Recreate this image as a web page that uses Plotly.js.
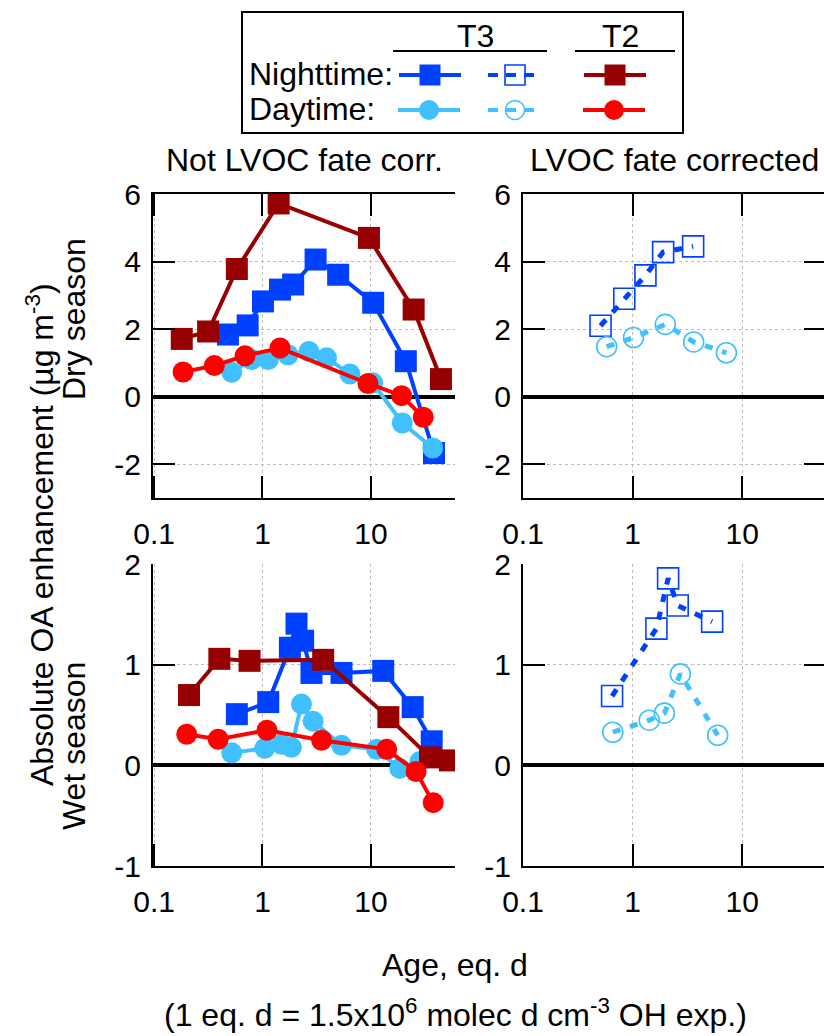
<!DOCTYPE html>
<html>
<head>
<meta charset="utf-8">
<script src="https://cdn.plot.ly/plotly-3.0.1.min.js"></script>
<style>
html,body{margin:0;padding:0;overflow:hidden;background:#fff;}
#chart{width:826px;height:1036px;}
</style>
</head>
<body>
<div id="chart"></div>
<script>
// ---------------- DATA ----------------
// Dry season, not LVOC fate corrected
const dryT3NightX = [0.48, 0.73, 1.01, 1.45, 1.92, 3.09, 4.99, 10.5, 21.0, 38.2];
const dryT3NightY = [1.84, 2.11, 2.82, 3.17, 3.32, 4.06, 3.61, 2.78, 1.05, -1.67];
const dryT3DayX = [0.52, 0.79, 1.13, 1.72, 2.68, 3.90, 6.40, 10.4, 19.5, 37.2];
const dryT3DayY = [0.72, 1.10, 1.10, 1.24, 1.34, 1.15, 0.67, 0.41, -0.78, -1.52];
const dryT2NightX = [0.18, 0.315, 0.58, 1.41, 9.6, 24.8, 44.3];
const dryT2NightY = [1.71, 1.93, 3.78, 5.72, 4.70, 2.58, 0.52];
const dryT2DayX = [0.185, 0.36, 0.69, 1.45, 9.4, 19.2, 30.4];
const dryT2DayY = [0.73, 0.92, 1.21, 1.44, 0.39, 0.03, -0.61];
// Dry season, LVOC fate corrected
const dryT3NightCorrX = [0.51, 0.84, 1.31, 1.90, 3.57];
const dryT3NightCorrY = [2.10, 2.90, 3.59, 4.28, 4.45];
const dryT3DayCorrX = [0.58, 1.02, 1.99, 3.61, 7.18];
const dryT3DayCorrY = [1.48, 1.75, 2.14, 1.62, 1.30];
// Wet season, not LVOC fate corrected
const wetT3NightX = [0.58, 1.13, 1.79, 2.06, 2.37, 2.83, 5.36, 13.0, 24.3, 36.4];
const wetT3NightY = [0.51, 0.63, 1.17, 1.41, 1.24, 0.92, 0.92, 0.94, 0.58, 0.24];
const wetT3DayX = [0.52, 1.05, 1.50, 1.85, 2.29, 2.93, 5.36, 11.3, 18.5, 28.3];
const wetT3DayY = [0.125, 0.17, 0.21, 0.18, 0.61, 0.44, 0.20, 0.16, -0.03, 0.04];
const wetT2NightX = [0.21, 0.40, 0.76, 3.63, 14.5, 35.1, 53.7];
const wetT2NightY = [0.70, 1.06, 1.04, 1.05, 0.48, 0.08, 0.05];
const wetT2DayX = [0.20, 0.39, 1.10, 3.51, 14.0, 26.1, 37.6];
const wetT2DayY = [0.31, 0.26, 0.35, 0.25, 0.16, -0.06, -0.37];
// Wet season, LVOC fate corrected
const wetT3NightCorrX = [0.65, 1.65, 2.11, 2.58, 5.32];
const wetT3NightCorrY = [0.69, 1.36, 1.86, 1.59, 1.43];
const wetT3DayCorrX = [0.66, 1.42, 1.95, 2.73, 5.98];
const wetT3DayCorrY = [0.33, 0.45, 0.52, 0.91, 0.30];

const xTickVals = [0.1, 1, 10];
const xTickText = ['0.1', '1', '10'];
const dryTickVals = [-2, 0, 2, 4, 6];
const wetTickVals = [-1, 0, 1, 2];

// ---------------- STYLE ----------------
const W = 826, H = 1036;
const FONT = 'Liberation Sans, Arial, Helvetica, sans-serif';
const C_BLUE = '#0040ff', C_LBLUE = '#40c0ff', C_DRED = '#960000', C_RED = '#ff0000';
const px = v => v / W;
const py = v => 1 - v / H;

function solid(x, y, color, symbol, size, xa, ya) {
  return {x, y, xaxis: xa, yaxis: ya, type: 'scatter', mode: 'lines+markers',
    line: {color, width: 4}, marker: {color, symbol, size, line: {width: 0}},
    showlegend: false, hoverinfo: 'skip'};
}
function dashed(x, y, color, symbol, size, xa, ya) {
  return {x, y, xaxis: xa, yaxis: ya, type: 'scatter', mode: 'lines+markers',
    line: {color, width: 5, dash: '8px,10px'},
    marker: {color, symbol, size, line: {width: 1.6, color}},
    showlegend: false, hoverinfo: 'skip'};
}

const traces = [
  solid(dryT3NightX, dryT3NightY, C_BLUE, 'square', 22, 'x', 'y'),
  solid(dryT3DayX, dryT3DayY, C_LBLUE, 'circle', 21, 'x', 'y'),
  solid(dryT2NightX, dryT2NightY, C_DRED, 'square', 22, 'x', 'y'),
  solid(dryT2DayX, dryT2DayY, C_RED, 'circle', 21, 'x', 'y'),
  dashed(dryT3NightCorrX, dryT3NightCorrY, C_BLUE, 'square-open', 21, 'x2', 'y2'),
  dashed(dryT3DayCorrX, dryT3DayCorrY, C_LBLUE, 'circle-open', 20, 'x2', 'y2'),
  solid(wetT3NightX, wetT3NightY, C_BLUE, 'square', 22, 'x3', 'y3'),
  solid(wetT3DayX, wetT3DayY, C_LBLUE, 'circle', 21, 'x3', 'y3'),
  solid(wetT2NightX, wetT2NightY, C_DRED, 'square', 22, 'x3', 'y3'),
  solid(wetT2DayX, wetT2DayY, C_RED, 'circle', 21, 'x3', 'y3'),
  dashed(wetT3NightCorrX, wetT3NightCorrY, C_BLUE, 'square-open', 21, 'x4', 'y4'),
  dashed(wetT3DayCorrX, wetT3DayCorrY, C_LBLUE, 'circle-open', 20, 'x4', 'y4')
];

// legend glyphs (drawn on a pixel-space helper axis)
const legendGlyphs = [
  {color: C_BLUE, symbol: 'square', size: 21, dash: 'solid', cx: 430, cy: 75, half: 31, w: 4},
  {color: C_BLUE, symbol: 'square-open', size: 20, dash: '10px,8px', cx: 515, cy: 75, half: 27, w: 4},
  {color: C_DRED, symbol: 'square', size: 21, dash: 'solid', cx: 615, cy: 75, half: 31, w: 4},
  {color: C_LBLUE, symbol: 'circle', size: 20, dash: 'solid', cx: 429, cy: 110, half: 31, w: 4},
  {color: C_LBLUE, symbol: 'circle-open', size: 19, dash: '10px,8px', cx: 515, cy: 110, half: 27, w: 4},
  {color: C_RED, symbol: 'circle', size: 20, dash: 'solid', cx: 614, cy: 110, half: 31, w: 4}
];
legendGlyphs.forEach(g => {
  traces.push({x: [g.cx - g.half, g.cx + g.half], y: [g.cy, g.cy], xaxis: 'x5', yaxis: 'y5',
    mode: 'lines', line: {color: g.color, width: g.w, dash: g.dash}, showlegend: false, hoverinfo: 'skip'});
  traces.push({x: [g.cx], y: [g.cy], xaxis: 'x5', yaxis: 'y5', mode: 'markers',
    marker: {color: g.color, symbol: g.symbol, size: g.size, line: {width: g.symbol.includes('open') ? 1.6 : 0, color: g.color}},
    showlegend: false, hoverinfo: 'skip'});
});

function xax(domain, range, mirror, anchor) {
  return {type: 'log', domain, range, anchor, tickvals: xTickVals, ticktext: xTickText,
    ticks: 'inside', ticklen: 22, tickwidth: 2, tickcolor: '#000',
    showline: true, linewidth: 2, linecolor: '#000', mirror: mirror ? 'ticks' : false,
    showgrid: true, gridcolor: '#bdbdbd', gridwidth: 1, griddash: '3px,3px',
    zeroline: false, tickfont: {size: 30, color: '#000', family: FONT},
    ticklabelstandoff: 8, fixedrange: true};
}
function yax(domain, range, tickvals, mirror, anchor) {
  return {domain, range, anchor, tickvals, ticktext: tickvals.map(String),
    ticks: 'inside', ticklen: 22, tickwidth: 2, tickcolor: '#000',
    showline: true, linewidth: 2, linecolor: '#000', mirror: mirror ? 'ticks' : false,
    showgrid: true, gridcolor: '#bdbdbd', gridwidth: 1, griddash: '3px,3px',
    zeroline: true, zerolinewidth: 4, zerolinecolor: '#000',
    tickfont: {size: 30, color: '#000', family: FONT}, ticklabelstandoff: 4, fixedrange: true};
}

const dL = [px(153), px(455)], dR = [px(523), 1];
const dTop = [py(498), py(194)], dBot = [py(866), py(564)];
const xRangeL = [-1.01, 1.776], xRangeR = [-1.0, 1.765];

const ann = (text, x, y, opts) => Object.assign({text, x: px(x), y: py(y), xref: 'paper', yref: 'paper',
  showarrow: false, font: {size: 32, color: '#000', family: FONT}, xanchor: 'center', yanchor: 'middle'}, opts || {});

const layout = {
  width: W, height: H, margin: {l: 0, r: 0, t: 0, b: 0},
  paper_bgcolor: '#fff', plot_bgcolor: 'rgba(0,0,0,0)',
  font: {family: FONT, size: 32, color: '#000'},
  xaxis: xax(dL, xRangeL, true, 'y'),
  yaxis: yax(dTop, [-3, 6], dryTickVals, false, 'x'),
  xaxis2: xax(dR, xRangeR, true, 'y2'),
  yaxis2: yax(dTop, [-3, 6], dryTickVals, true, 'x2'),
  xaxis3: xax(dL, xRangeL, false, 'y3'),
  yaxis3: yax(dBot, [-1, 2.003], wetTickVals, false, 'x3'),
  xaxis4: xax(dR, xRangeR, false, 'y4'),
  yaxis4: yax(dBot, [-1, 2.003], wetTickVals, true, 'x4'),
  xaxis5: {domain: [0, 1], range: [0, W], visible: false, anchor: 'y5', fixedrange: true},
  yaxis5: {domain: [0, 1], range: [H, 0], visible: false, anchor: 'x5', fixedrange: true},
  shapes: [
    {type: 'rect', xref: 'paper', yref: 'paper', x0: px(242), x1: px(683), y0: py(133), y1: py(12),
     line: {color: '#000', width: 2}},
    {type: 'line', xref: 'paper', yref: 'paper', x0: px(393), x1: px(547), y0: py(51), y1: py(51),
     line: {color: '#000', width: 2}},
    {type: 'line', xref: 'paper', yref: 'paper', x0: px(575), x1: px(675), y0: py(51), y1: py(51),
     line: {color: '#000', width: 2}}
  ],
  annotations: [
    ann('T3', 475, 36),
    ann('T2', 620, 36),
    ann('Nighttime:', 247, 74, {xanchor: 'left'}),
    ann('Daytime:', 247, 109, {xanchor: 'left'}),
    ann('Not LVOC fate corr.', 304, 160),
    ann('LVOC fate corrected', 674, 160),
    ann('Absolute OA enhancement (µg m<sup>-3</sup>)', 40, 535, {textangle: -90}),
    ann('Dry season', 74, 319, {textangle: -90}),
    ann('Wet season', 74, 746, {textangle: -90}),
    ann('Age, eq. d', 455, 965),
    ann('(1 eq. d = 1.5x10<sup>6</sup> molec d cm<sup>-3</sup> OH exp.)', 455, 1013)
  ]
};

Plotly.newPlot('chart', traces, layout, {staticPlot: true, displayModeBar: false});
</script>
</body>
</html>
